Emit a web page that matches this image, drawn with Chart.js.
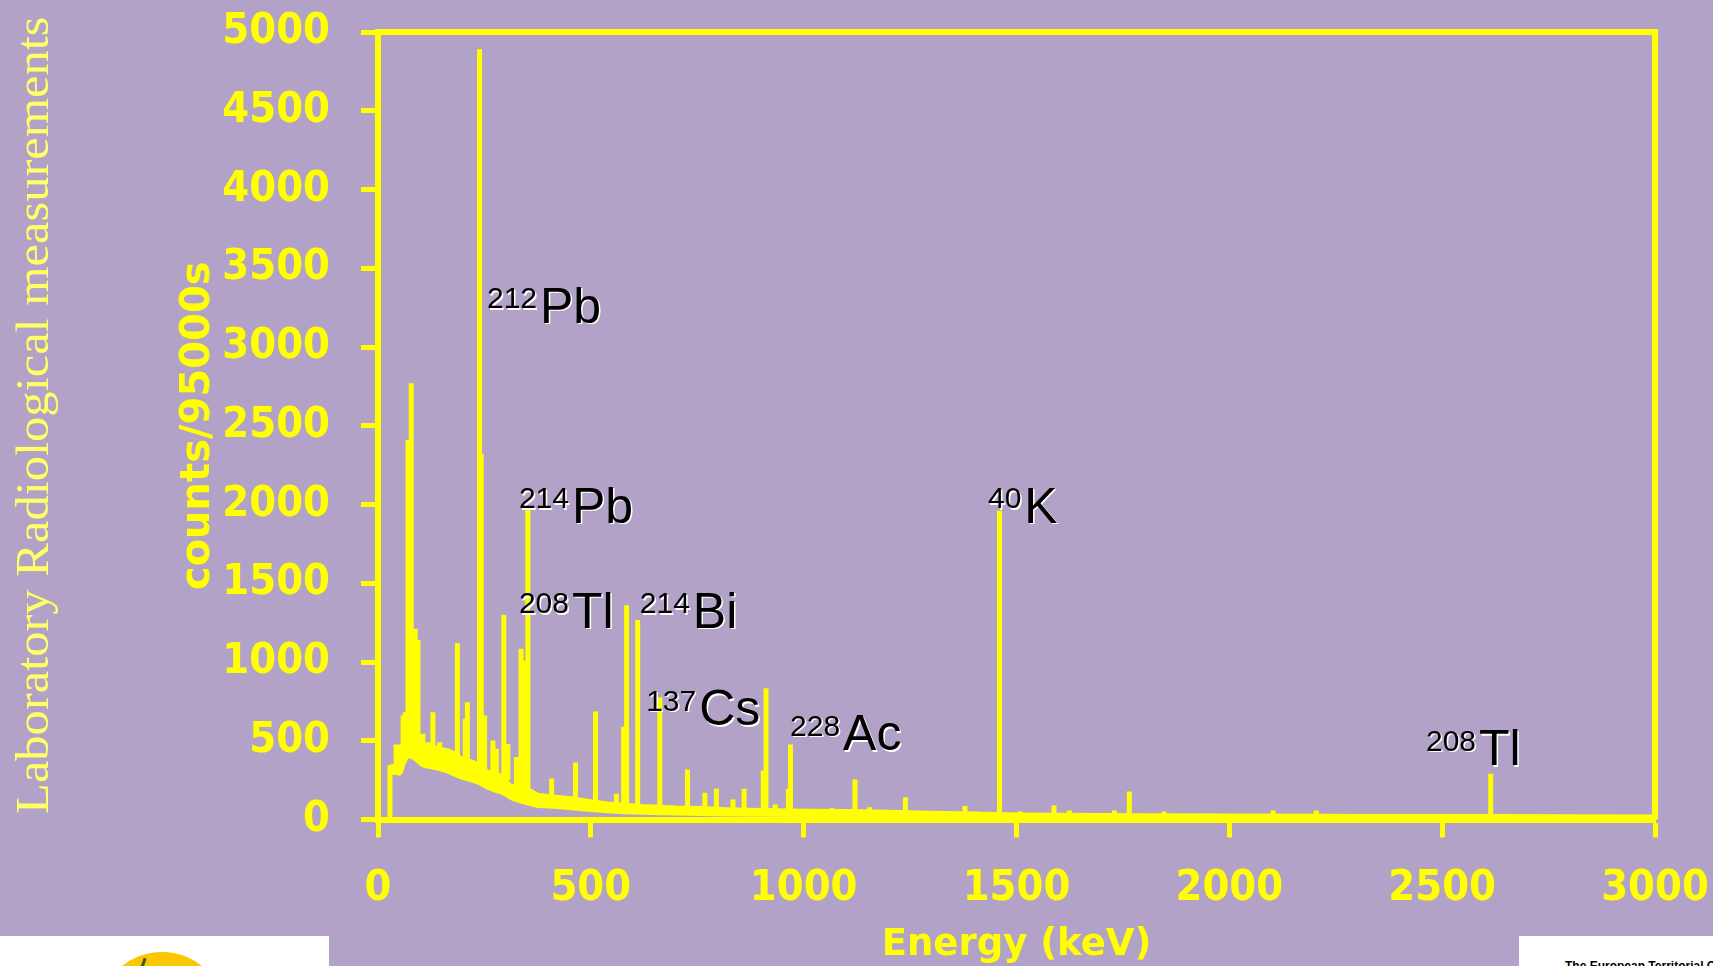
<!DOCTYPE html>
<html>
<head>
<meta charset="utf-8">
<script src="https://cdn.jsdelivr.net/npm/chart.js@4.4.1/dist/chart.umd.min.js"></script>
<style>
  html, body { margin: 0; padding: 0; }
  body {
    width: 1713px; height: 966px; overflow: hidden; position: relative;
    background: #b2a2c7;
  }
  #chart { position: absolute; left: 0; top: 0; }
  #side {
    position: absolute; left: 10px; top: 814px;
    font: 46px "Liberation Serif", "Times New Roman", serif;
    line-height: 1; color: #ffff66; white-space: nowrap;
    transform-origin: left top;
  }
  .logo-box { position: absolute; background: #fff; overflow: hidden; }
  #logo-left { left: 0; top: 936px; width: 329px; height: 30px; }
  #logo-right { left: 1519px; top: 936px; width: 194px; height: 30px; }
  #sun {
    position: absolute; left: 98px; top: 16px; width: 128px; height: 128px;
    border-radius: 50%; background: #fbc700;
  }
  #leaf {
    position: absolute; left: 142px; top: 22px; width: 3px; height: 10px;
    background: #3b5a1a; transform: rotate(20deg);
  }
  #etc {
    position: absolute; left: 46px; top: 24px;
    font: bold 12px "Liberation Sans", Arial, sans-serif; line-height: 1;
    color: #000; white-space: nowrap;
  }
</style>
</head>
<body>
<canvas id="chart" width="1713" height="966"></canvas>
<div id="side">Laboratory Radiological measurements</div>
<div class="logo-box" id="logo-left"><div id="sun"></div><div id="leaf"></div></div>
<div class="logo-box" id="logo-right"><div id="etc">The European Territorial Cooperation</div></div>
<script>
const YELLOW = "#ffff00";

// continuum (noisy band), energy in keV, counts per 95000 s
const bandEnergy = [28, 38, 39, 50, 56, 62, 70, 80, 90, 102, 110, 125, 140, 157, 170, 180, 196, 215, 235, 258,
  274, 290, 313, 330, 352, 376, 400, 430, 460, 500, 540, 580, 620, 660, 700, 760, 820, 900, 1000, 1100,
  1200, 1300, 1400, 1500, 1600, 1800, 2000, 2200, 2400, 2600, 2800, 3000];
const bandLow = [290, 290, 290, 285, 295, 350, 395, 390, 370, 340, 333, 325, 318, 305, 290, 278, 260, 245, 228, 195,
  178, 165, 128, 112, 95, 80, 76, 72, 64, 54, 46, 40, 36, 34, 32, 28, 26, 24, 22, 20,
  18, 16, 15, 14, 12, 10, 10, 8, 8, 6, 6, 5];
const bandHigh = [345, 345, 470, 470, 470, 490, 520, 540, 520, 500, 480, 470, 460, 450, 440, 420, 396, 380, 360, 311,
  300, 285, 220, 210, 200, 163, 155, 148, 140, 122, 108, 100, 92, 88, 82, 80, 72, 66, 62, 60,
  55, 50, 45, 38, 36, 33, 31, 30, 29, 28, 27, 26];

// photopeaks
const peakEnergy = [28, 59, 64, 70.5, 78, 87.5, 94, 105.5, 117, 129, 145, 160, 178, 186.5, 205, 210, 231, 238.4, 242.5, 250.5,
  270, 278, 295.5, 305, 325, 336, 343, 352, 408, 464, 511, 560, 577, 584, 610, 662, 727, 768, 795, 834,
  860, 905, 911.5, 933, 964, 969, 1000, 1066, 1120.5, 1155, 1239, 1379, 1402, 1460, 1509, 1588, 1624, 1730, 1765, 1847,
  2103, 2204, 2614];
const peakTop = [345, 660, 681, 2410, 2770, 1211, 1140, 545, 490, 681, 490, 450, 437, 1120, 640, 745, 364, 4890, 2320, 660,
  501, 450, 1300, 480, 397, 1084, 1010, 1968, 260, 362, 685, 164, 589, 1360, 1266, 775, 317, 170, 196, 127,
  195, 311, 834, 95, 195, 476, 68, 72, 254, 78, 142, 85, 51, 1960, 51, 89, 57, 57, 178, 51,
  57, 57, 290];
const peakBase = [0, 450, 460, 480, 500, 500, 490, 450, 440, 430, 420, 410, 380, 370, 350, 350, 320, 320, 300, 300,
  280, 280, 260, 250, 210, 200, 190, 180, 140, 120, 110, 90, 90, 90, 85, 80, 75, 70, 70, 65,
  65, 60, 60, 55, 55, 55, 50, 50, 50, 45, 45, 40, 40, 38, 30, 30, 30, 30, 30, 30,
  28, 28, 28];

const xTicks = [0, 500, 1000, 1500, 2000, 2500, 3000];
const yTicks = [0, 500, 1000, 1500, 2000, 2500, 3000, 3500, 4000, 4500, 5000];

// nuclide labels, anchored at (energy, counts) of the label baseline start
const isotopeMass = ["212", "214", "208", "214", "137", "228", "40", "208"];
const isotopeSymbol = ["Pb", "Pb", "Tl", "Bi", "Cs", "Ac", "K", "Tl"];
const labelEnergy = [256, 331, 331, 615, 630, 968, 1433, 2462];
const labelCounts = [3153, 1883, 1216, 1216, 600, 441, 1883, 346];

const highPoints = bandEnergy.map((e, i) => ({ x: e, y: bandHigh[i] }));
const lowPoints = bandEnergy.map((e, i) => ({ x: e, y: bandLow[i] }));
const peakPoints = [];
peakEnergy.forEach((e, i) => {
  peakPoints.push({ x: e, y: peakBase[i] }, { x: e, y: peakTop[i] }, { x: e, y: null });
});

const frame = {
  id: "frame",
  beforeDatasetsDraw(chart) {
    const { ctx, chartArea: a } = chart;
    ctx.save();
    ctx.strokeStyle = YELLOW;
    ctx.lineWidth = 6;
    ctx.beginPath();
    ctx.moveTo(a.left, a.top);
    ctx.lineTo(a.right, a.top);
    ctx.lineTo(a.right, a.bottom);
    ctx.stroke();
    ctx.restore();
  },
};

const nuclides = {
  id: "nuclides",
  afterDatasetsDraw(chart) {
    const { ctx, scales } = chart;
    ctx.save();
    ctx.textBaseline = "alphabetic";
    ctx.textAlign = "left";
    isotopeMass.forEach((mass, i) => {
      const x = scales.x.getPixelForValue(labelEnergy[i]);
      const y = scales.y.getPixelForValue(labelCounts[i]);
      ctx.font = '30px "Liberation Sans", Arial, sans-serif';
      const w = ctx.measureText(mass).width;
      ctx.fillStyle = "#ffffff";
      ctx.fillText(mass, x + 1.5, y - 14.5 + 1.5);
      ctx.fillStyle = "#000000";
      ctx.fillText(mass, x, y - 14.5);
      ctx.font = '50px "Liberation Sans", Arial, sans-serif';
      ctx.fillStyle = "#ffffff";
      ctx.fillText(isotopeSymbol[i], x + w + 3 + 1.5, y + 1.5);
      ctx.fillStyle = "#000000";
      ctx.fillText(isotopeSymbol[i], x + w + 3, y);
    });
    ctx.restore();
  },
};

const tickFont = { family: '"DejaVu Sans Condensed", "DejaVu Sans"', size: 43, weight: "bold" };

new Chart(document.getElementById("chart"), {
  type: "line",
  data: {
    datasets: [
      { data: highPoints, borderColor: YELLOW, backgroundColor: YELLOW, borderWidth: 2, fill: "+1" },
      { data: lowPoints, borderColor: YELLOW, borderWidth: 2, fill: false },
      { data: peakPoints, borderColor: YELLOW, borderWidth: 5, borderCapStyle: "butt", fill: false, spanGaps: false },
    ],
  },
  options: {
    responsive: false,
    animation: false,
    layout: { padding: { top: 32, right: 58, left: 0, bottom: 0 } },
    elements: { point: { radius: 0 }, line: { tension: 0 } },
    plugins: { legend: { display: false }, tooltip: { enabled: false } },
    scales: {
      x: {
        type: "linear",
        min: 0,
        max: 3000,
        afterBuildTicks: (s) => { s.ticks = xTicks.map((v) => ({ value: v })); },
        afterFit: (s) => { s.height = 146.5; s.paddingLeft = 0; s.paddingRight = 0; },
        ticks: { color: YELLOW, font: tickFont, padding: 26, maxRotation: 0, autoSkip: false, callback: (v) => String(v) },
        grid: { drawOnChartArea: false, drawTicks: true, tickLength: 18, tickWidth: 5, tickColor: YELLOW, color: YELLOW },
        border: { display: true, color: YELLOW, width: 6 },
        title: {
          display: true, text: "Energy (keV)", color: YELLOW,
          font: { family: "DejaVu Sans", size: 37, weight: "bold", lineHeight: 1.1 }, padding: { top: 0, bottom: 0 },
        },
      },
      y: {
        type: "linear",
        min: 0,
        max: 5000,
        afterBuildTicks: (s) => { s.ticks = yTicks.map((v) => ({ value: v })); },
        afterFit: (s) => { s.width = 378; s.paddingTop = 0; s.paddingBottom = 0; },
        ticks: { color: YELLOW, font: tickFont, padding: 31, autoSkip: false, callback: (v) => String(v) },
        grid: { drawOnChartArea: false, drawTicks: true, tickLength: 17, tickWidth: 5, tickColor: YELLOW, color: YELLOW },
        border: { display: true, color: YELLOW, width: 6 },
        title: {
          display: true, text: "counts/95000s", color: YELLOW,
          font: { family: "DejaVu Sans", size: 40, weight: "bold" }, padding: { top: 175, bottom: 0 },
        },
      },
    },
  },
  plugins: [frame, nuclides],
});

// stretch the slide caption along its length to the reference span
const side = document.getElementById("side");
side.style.transform = "rotate(-90deg) scaleX(" + (798 / side.offsetWidth) + ")";
</script>
</body>
</html>
